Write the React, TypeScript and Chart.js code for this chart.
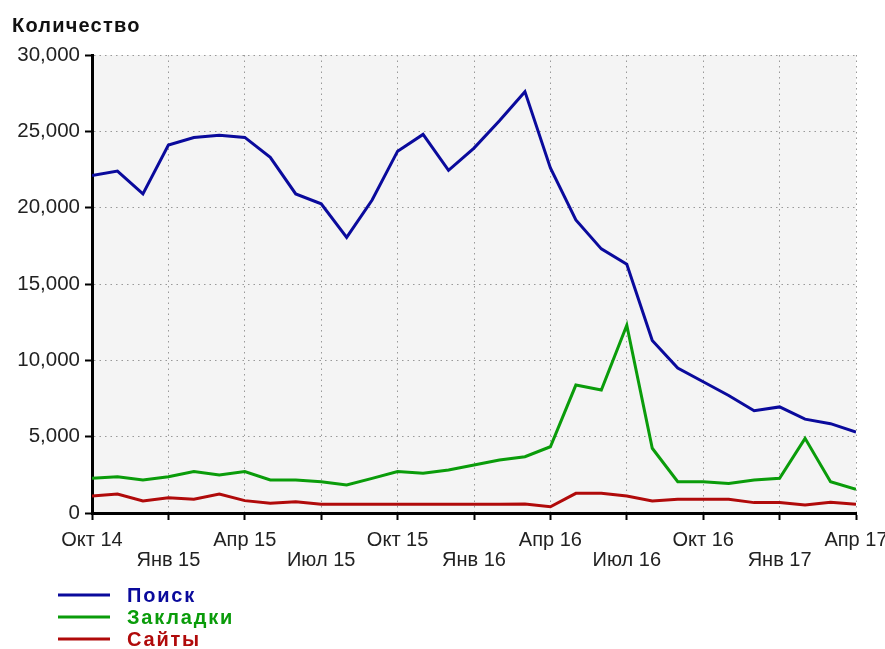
import React, { useEffect, useRef } from "react";
import { Chart, registerables } from "chart.js";

Chart.register(...registerables);

const months = [
  "Окт 14", "Ноя 14", "Дек 14", "Янв 15", "Фев 15", "Мар 15", "Апр 15", "Май 15", "Июн 15",
  "Июл 15", "Авг 15", "Сен 15", "Окт 15", "Ноя 15", "Дек 15", "Янв 16", "Фев 16", "Мар 16",
  "Апр 16", "Май 16", "Июн 16", "Июл 16", "Авг 16", "Сен 16", "Окт 16", "Ноя 16", "Дек 16",
  "Янв 17", "Фев 17", "Мар 17", "Апр 17",
];

const poisk = [
  22100, 22400, 20900, 24100, 24600, 24750, 24600, 23300, 20900, 20250, 18050, 20500, 23700,
  24800, 22450, 23900, 25700, 27600, 22600, 19200, 17300, 16300, 11300, 9500, 8600, 7700, 6700,
  6950, 6150, 5850, 5300,
];

const zakladki = [
  2270, 2380, 2160, 2380, 2710, 2490, 2710, 2160, 2160, 2050, 1830, 2270, 2710, 2600, 2820, 3140,
  3470, 3690, 4340, 8380, 8060, 12300, 4240, 2050, 2050, 1940, 2160, 2270, 4890, 2050, 1550,
];

const saity = [
  1110, 1240, 790, 1000, 900, 1240, 810, 640, 740, 570, 570, 570, 570, 570, 570, 570, 570, 590,
  410, 1290, 1290, 1110, 790, 900, 900, 900, 680, 680, 520, 700, 570,
];

const seriesNames = ["Поиск", "Закладки", "Сайты"];
const seriesColors = ["#0a0a9c", "#0a9c0a", "#b00a0a"];
const titleText = "Количество";

const FONT = '"Liberation Sans", Arial, sans-serif';

const bgPlugin = {
  id: "plotBg",
  beforeDraw(chart: any) {
    const { ctx, chartArea: a } = chart;
    ctx.save();
    ctx.fillStyle = "#f4f4f4";
    ctx.fillRect(a.left, a.top, a.right - a.left, a.bottom - a.top);
    ctx.restore();
  },
};

const textPlugin = {
  id: "titleLegend",
  afterDraw(chart: any) {
    const { ctx } = chart;
    ctx.save();
    ctx.font = `bold 20px ${FONT}`;
    (ctx as any).letterSpacing = "1.2px";
    ctx.fillStyle = "#111";
    ctx.textBaseline = "alphabetic";
    ctx.textAlign = "left";
    ctx.fillText(titleText, 12, 32);
    ctx.font = `bold 20px ${FONT}`;
    (ctx as any).letterSpacing = "1.8px";
    chart.data.datasets.forEach((ds: any, i: number) => {
      const y = 595 + i * 22;
      ctx.strokeStyle = ds.borderColor;
      ctx.lineWidth = 3;
      ctx.beginPath();
      ctx.moveTo(58, y);
      ctx.lineTo(110, y);
      ctx.stroke();
      ctx.fillStyle = ds.borderColor;
      ctx.fillText(ds.label, 127, y + 7);
    });
    ctx.restore();
  },
};

export default function App() {
  const ref = useRef<HTMLCanvasElement>(null);

  useEffect(() => {
    const toPts = (arr: number[]) => arr.map((v, i) => ({ x: i, y: v }));
    const values = [poisk, zakladki, saity];
    const chart = new Chart(ref.current!, {
      type: "line",
      data: {
        datasets: values.map((arr, i) => ({
          label: seriesNames[i],
          data: toPts(arr),
          borderColor: seriesColors[i],
          backgroundColor: seriesColors[i],
          borderWidth: 3,
          pointRadius: 0,
          tension: 0,
          fill: false,
        })),
      },
      options: {
        animation: false,
        responsive: false,
        layout: { padding: { top: 55, right: 29, left: 0, bottom: 0 } },
        plugins: { legend: { display: false }, tooltip: { enabled: false }, title: { display: false } },
        scales: {
          x: {
            type: "linear",
            min: 0,
            max: 30,
            afterFit(scale: any) {
              scale.height = 136;
              scale.paddingRight = 0;
              scale.paddingLeft = 0;
            },
            ticks: {
              stepSize: 3,
              autoSkip: false,
              maxRotation: 0,
              padding: 10,
              color: "#222",
              font: { family: FONT, size: 20, lineHeight: 1.0 },
              callback: (v: any) => {
                const idx = Math.round(Number(v));
                const k = idx / 3;
                const lbl = months[idx];
                return k % 2 === 0 ? [lbl] : ["", lbl];
              },
            },
            grid: {
              color: "#999",
              lineWidth: 1,
              tickLength: 7,
              tickColor: "#000",
              tickWidth: 2,
            },
            border: { display: true, color: "#000", width: 3, dash: [1.5, 4] },
          },
          y: {
            min: 0,
            max: 30000,
            afterFit(scale: any) {
              scale.width = 92;
            },
            ticks: {
              stepSize: 5000,
              padding: 5,
              color: "#222",
              font: { family: FONT, size: 20.5 },
              callback: (v: any) => Number(v).toLocaleString("en-US"),
            },
            grid: {
              color: "#999",
              lineWidth: 1,
              tickLength: 7,
              tickColor: "#000",
              tickWidth: 2,
            },
            border: { display: true, color: "#000", width: 3, dash: [1.5, 4] },
          },
        },
      },
      plugins: [bgPlugin, textPlugin],
    });
    return () => chart.destroy();
  }, []);

  return (
    <div style={{ position: "absolute", left: 0, top: 0, width: 885, height: 649, background: "#fff" }}>
      <canvas ref={ref} width={885} height={649} style={{ width: 885, height: 649 }} />
    </div>
  );
}
